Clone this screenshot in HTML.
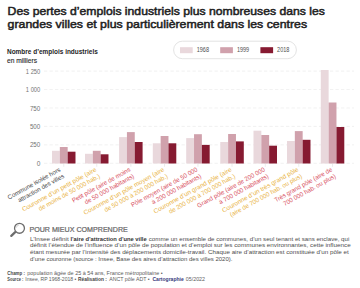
<!DOCTYPE html>
<html><head><meta charset="utf-8"><style>
html,body{margin:0;padding:0;background:#fff;width:360px;height:288px;overflow:hidden}
svg{display:block;font-family:"Liberation Sans",sans-serif}
</style></head><body>
<svg width="360" height="288" viewBox="0 0 360 288">
<rect width="360" height="288" fill="#fff"/>
<text x="7.6" y="14.8" font-size="11.3" fill="#1e1e1e" textLength="317.3" lengthAdjust="spacingAndGlyphs" stroke="#1e1e1e" stroke-width="0.5">Des pertes d’emplois industriels plus nombreuses dans les</text>
<text x="7.6" y="28.2" font-size="11.3" fill="#1e1e1e" textLength="299.5" lengthAdjust="spacingAndGlyphs" stroke="#1e1e1e" stroke-width="0.5">grandes villes et plus particulièrement dans les centres</text>
<text x="7" y="54.4" font-size="6.3" fill="#1e1e1e" font-weight="bold" textLength="90.8" lengthAdjust="spacingAndGlyphs">Nombre d’emplois industriels</text>
<text x="7" y="62.9" font-size="6.5" fill="#2a2a2a" textLength="30" lengthAdjust="spacingAndGlyphs" stroke="#2a2a2a" stroke-width="0.12">en milliers</text>
<text x="40.3" y="165.9" font-size="6.5" fill="#737373" text-anchor="end">0</text>
<line x1="44" y1="163.30" x2="354" y2="163.30" stroke="#e6e6e6" stroke-width="0.55" stroke-dasharray="3.3 2.2"/>
<text x="40.3" y="147.46" font-size="6.5" fill="#737373" text-anchor="end" textLength="10.4" lengthAdjust="spacingAndGlyphs">250</text>
<line x1="44" y1="144.86" x2="354" y2="144.86" stroke="#e6e6e6" stroke-width="0.55" stroke-dasharray="3.3 2.2"/>
<text x="40.3" y="129.02" font-size="6.5" fill="#737373" text-anchor="end" textLength="10.4" lengthAdjust="spacingAndGlyphs">500</text>
<line x1="44" y1="126.42" x2="354" y2="126.42" stroke="#e6e6e6" stroke-width="0.55" stroke-dasharray="3.3 2.2"/>
<text x="40.3" y="110.58" font-size="6.5" fill="#737373" text-anchor="end" textLength="10.4" lengthAdjust="spacingAndGlyphs">750</text>
<line x1="44" y1="107.98" x2="354" y2="107.98" stroke="#e6e6e6" stroke-width="0.55" stroke-dasharray="3.3 2.2"/>
<text x="40.3" y="92.14" font-size="6.5" fill="#737373" text-anchor="end" textLength="14.5" lengthAdjust="spacingAndGlyphs">1 000</text>
<line x1="44" y1="89.54" x2="354" y2="89.54" stroke="#e6e6e6" stroke-width="0.55" stroke-dasharray="3.3 2.2"/>
<text x="40.3" y="73.7" font-size="6.5" fill="#737373" text-anchor="end" textLength="14.5" lengthAdjust="spacingAndGlyphs">1 250</text>
<line x1="44" y1="71.10" x2="354" y2="71.10" stroke="#e6e6e6" stroke-width="0.55" stroke-dasharray="3.3 2.2"/>
<rect x="52.00" y="150.8" width="7.83" height="12.70" fill="#e9d8dc"/>
<rect x="59.83" y="147" width="7.83" height="16.50" fill="#d0a1ac"/>
<rect x="67.66" y="151.7" width="7.83" height="11.80" fill="#861a31"/>
<rect x="85.00" y="153.8" width="7.83" height="9.70" fill="#e9d8dc"/>
<rect x="92.83" y="150.8" width="7.83" height="12.70" fill="#d0a1ac"/>
<rect x="100.66" y="154.3" width="7.83" height="9.20" fill="#861a31"/>
<rect x="119.10" y="137.1" width="7.83" height="26.40" fill="#e9d8dc"/>
<rect x="126.93" y="132.1" width="7.83" height="31.40" fill="#d0a1ac"/>
<rect x="134.76" y="142" width="7.83" height="21.50" fill="#861a31"/>
<rect x="152.80" y="143.3" width="7.83" height="20.20" fill="#e9d8dc"/>
<rect x="160.63" y="136" width="7.83" height="27.50" fill="#d0a1ac"/>
<rect x="168.46" y="143.3" width="7.83" height="20.20" fill="#861a31"/>
<rect x="186.20" y="138.1" width="7.83" height="25.40" fill="#e9d8dc"/>
<rect x="194.03" y="134.2" width="7.83" height="29.30" fill="#d0a1ac"/>
<rect x="201.86" y="144.9" width="7.83" height="18.60" fill="#861a31"/>
<rect x="220.30" y="142" width="7.83" height="21.50" fill="#e9d8dc"/>
<rect x="228.13" y="134" width="7.83" height="29.50" fill="#d0a1ac"/>
<rect x="235.96" y="141.4" width="7.83" height="22.10" fill="#861a31"/>
<rect x="253.50" y="130.7" width="7.83" height="32.80" fill="#e9d8dc"/>
<rect x="261.33" y="135" width="7.83" height="28.50" fill="#d0a1ac"/>
<rect x="269.16" y="145.7" width="7.83" height="17.80" fill="#861a31"/>
<rect x="287.00" y="141" width="7.83" height="22.50" fill="#e9d8dc"/>
<rect x="294.83" y="131.1" width="7.83" height="32.40" fill="#d0a1ac"/>
<rect x="302.66" y="139.8" width="7.83" height="23.70" fill="#861a31"/>
<rect x="320.80" y="70" width="7.83" height="93.50" fill="#e9d8dc"/>
<rect x="328.63" y="102.5" width="7.83" height="61.00" fill="#d0a1ac"/>
<rect x="336.46" y="127" width="7.83" height="36.50" fill="#861a31"/>
<line x1="63.75" y1="163.6" x2="63.75" y2="166.8" stroke="#d8d8d8" stroke-width="0.5"/>
<line x1="96.75" y1="163.6" x2="96.75" y2="166.8" stroke="#d8d8d8" stroke-width="0.5"/>
<line x1="130.85" y1="163.6" x2="130.85" y2="166.8" stroke="#d8d8d8" stroke-width="0.5"/>
<line x1="164.55" y1="163.6" x2="164.55" y2="166.8" stroke="#d8d8d8" stroke-width="0.5"/>
<line x1="197.95" y1="163.6" x2="197.95" y2="166.8" stroke="#d8d8d8" stroke-width="0.5"/>
<line x1="232.05" y1="163.6" x2="232.05" y2="166.8" stroke="#d8d8d8" stroke-width="0.5"/>
<line x1="265.25" y1="163.6" x2="265.25" y2="166.8" stroke="#d8d8d8" stroke-width="0.5"/>
<line x1="298.75" y1="163.6" x2="298.75" y2="166.8" stroke="#d8d8d8" stroke-width="0.5"/>
<line x1="332.55" y1="163.6" x2="332.55" y2="166.8" stroke="#d8d8d8" stroke-width="0.5"/>
<rect x="173.6" y="41.2" width="122.8" height="17.5" rx="8.75" fill="#fff" stroke="#dcdcdc" stroke-width="0.8"/>
<rect x="180.0" y="47.2" width="12.7" height="6" fill="#e9d8dc"/>
<text x="196.7" y="52.4" font-size="6.4" fill="#505050" textLength="12.3" lengthAdjust="spacingAndGlyphs">1968</text>
<rect x="220.2" y="47.2" width="12.7" height="6" fill="#d0a1ac"/>
<text x="236.89999999999998" y="52.4" font-size="6.4" fill="#505050" textLength="12.3" lengthAdjust="spacingAndGlyphs">1999</text>
<rect x="260.4" y="47.2" width="12.7" height="6" fill="#861a31"/>
<text x="277.09999999999997" y="52.4" font-size="6.4" fill="#505050" textLength="12.3" lengthAdjust="spacingAndGlyphs">2018</text>
<g transform="translate(60.95,170.9) rotate(-29)"><text x="0" y="0" font-size="6.35" fill="#4a4a4a" text-anchor="end" textLength="59.33" lengthAdjust="spacingAndGlyphs">Commune isolée hors</text><text x="0" y="7.5" font-size="6.35" fill="#4a4a4a" text-anchor="end" textLength="51.87" lengthAdjust="spacingAndGlyphs">attraction des villes</text></g>
<g transform="translate(96.85,170.9) rotate(-29)"><text x="0" y="0" font-size="6.35" fill="#e9b343" text-anchor="end" textLength="83.99" lengthAdjust="spacingAndGlyphs">Couronne d’un petit pôle (aire</text><text x="0" y="7.5" font-size="6.35" fill="#e9b343" text-anchor="end" textLength="69.18" lengthAdjust="spacingAndGlyphs">de moins de 50 000 hab.)</text></g>
<g transform="translate(130.95,170.9) rotate(-29)"><text x="0" y="0" font-size="6.35" fill="#d8505e" text-anchor="end" textLength="65.78" lengthAdjust="spacingAndGlyphs">Petit pôle (aire de moins</text><text x="0" y="7.5" font-size="6.35" fill="#d8505e" text-anchor="end" textLength="55.62" lengthAdjust="spacingAndGlyphs">de 50 000 habitants)</text></g>
<g transform="translate(164.65,170.9) rotate(-29)"><text x="0" y="0" font-size="6.35" fill="#e9b343" text-anchor="end" textLength="91.07" lengthAdjust="spacingAndGlyphs">Couronne d’un pôle moyen (aire</text><text x="0" y="7.5" font-size="6.35" fill="#e9b343" text-anchor="end" textLength="71.57" lengthAdjust="spacingAndGlyphs">de 50 000 à 200 000 hab.)</text></g>
<g transform="translate(198.05,170.9) rotate(-29)"><text x="0" y="0" font-size="6.35" fill="#d8505e" text-anchor="end" textLength="74.94" lengthAdjust="spacingAndGlyphs">Pôle moyen (aire de 50 000</text><text x="0" y="7.5" font-size="6.35" fill="#d8505e" text-anchor="end" textLength="55.62" lengthAdjust="spacingAndGlyphs">à 200 000 habitants)</text></g>
<g transform="translate(232.15,170.9) rotate(-29)"><text x="0" y="0" font-size="6.35" fill="#e9b343" text-anchor="end" textLength="88.24" lengthAdjust="spacingAndGlyphs">Couronne d’un grand pôle (aire</text><text x="0" y="7.5" font-size="6.35" fill="#e9b343" text-anchor="end" textLength="74.96" lengthAdjust="spacingAndGlyphs">de 200 000 à 700 000 hab.)</text></g>
<g transform="translate(265.35,170.9) rotate(-29)"><text x="0" y="0" font-size="6.35" fill="#d8505e" text-anchor="end" textLength="76.31" lengthAdjust="spacingAndGlyphs">Grand pôle (aire de 200 000</text><text x="0" y="7.5" font-size="6.35" fill="#d8505e" text-anchor="end" textLength="55.62" lengthAdjust="spacingAndGlyphs">à 700 000 habitants)</text></g>
<g transform="translate(298.85,170.9) rotate(-29)"><text x="0" y="0" font-size="6.35" fill="#e9b343" text-anchor="end" textLength="86.12" lengthAdjust="spacingAndGlyphs">Couronne d’un très grand pôle</text><text x="0" y="7.5" font-size="6.35" fill="#e9b343" text-anchor="end" textLength="81.39" lengthAdjust="spacingAndGlyphs">(aire de 700 000 hab. ou plus)</text></g>
<g transform="translate(332.65,170.9) rotate(-29)"><text x="0" y="0" font-size="6.35" fill="#d8505e" text-anchor="end" textLength="64.88" lengthAdjust="spacingAndGlyphs">Très grand pôle (aire de</text><text x="0" y="7.5" font-size="6.35" fill="#d8505e" text-anchor="end" textLength="59.01" lengthAdjust="spacingAndGlyphs">700 000 hab. ou plus)</text></g>
<circle cx="19.5" cy="228.3" r="4.95" fill="none" stroke="#6d6d6d" stroke-width="1.3"/>
<line x1="15.2" y1="232.2" x2="11.3" y2="235.9" stroke="#6d6d6d" stroke-width="2.3" stroke-linecap="round"/>
<path d="M16.4 227.6 A3.2 3.2 0 0 1 19.2 224.9" fill="none" stroke="#b5b5b5" stroke-width="0.6"/>
<text x="29.4" y="232" font-size="6.8" fill="#666" textLength="98.4" lengthAdjust="spacingAndGlyphs" stroke="#666" stroke-width="0.2">POUR MIEUX COMPRENDRE</text>
<text x="30" y="240.6" font-size="6.25" fill="#4e4e4e" textLength="38.8" lengthAdjust="spacingAndGlyphs">L’Insee définit</text>
<text x="70.4" y="240.6" font-size="6.25" fill="#333333" font-weight="bold" textLength="76.2" lengthAdjust="spacingAndGlyphs">l’aire d’attraction d’une ville</text>
<text x="148.8" y="240.6" font-size="6.25" fill="#4e4e4e" textLength="200.5" lengthAdjust="spacingAndGlyphs">comme un ensemble de communes, d’un seul tenant et sans enclave, qui</text>
<text x="30" y="247.3" font-size="6.25" fill="#4e4e4e" textLength="320.7" lengthAdjust="spacingAndGlyphs">définit l’étendue de l’influence d’un pôle de population et d’emploi sur les communes environnantes, cette influence</text>
<text x="30" y="254" font-size="6.25" fill="#4e4e4e" textLength="318.8" lengthAdjust="spacingAndGlyphs">étant mesurée par l’intensité des déplacements domicile-travail. Chaque aire d’attraction est constituée d’un pôle et</text>
<text x="30" y="260.8" font-size="6.25" fill="#4e4e4e" textLength="202.5" lengthAdjust="spacingAndGlyphs">d’une couronne (source : Insee, Base des aires d’attraction des villes 2020).</text>
<text x="7.3" y="275.4" font-size="5.3" fill="#454545" font-weight="bold" textLength="17.6" lengthAdjust="spacingAndGlyphs">Champ :</text>
<text x="27.3" y="275.4" font-size="5.3" fill="#5c5c5c" textLength="135.4" lengthAdjust="spacingAndGlyphs">population âgée de 25 à 54 ans, France métropolitaine •</text>
<text x="7.3" y="281.4" font-size="5.3" fill="#454545" font-weight="bold" textLength="16" lengthAdjust="spacingAndGlyphs">Source :</text>
<text x="25.3" y="281.4" font-size="5.3" fill="#5c5c5c" textLength="51" lengthAdjust="spacingAndGlyphs">Insee, RP 1968-2018 •</text>
<text x="78" y="281.4" font-size="5.3" fill="#454545" font-weight="bold" textLength="28.8" lengthAdjust="spacingAndGlyphs">Réalisation :</text>
<text x="109.2" y="281.4" font-size="5.3" fill="#5c5c5c" textLength="40.5" lengthAdjust="spacingAndGlyphs">ANCT pôle ADT •</text>
<text x="152.5" y="281.4" font-size="5.3" fill="#35377a" font-weight="bold" textLength="31.2" lengthAdjust="spacingAndGlyphs">Cartographie</text>
<text x="185.8" y="281.4" font-size="5.3" fill="#5c5c5c" textLength="19.2" lengthAdjust="spacingAndGlyphs">05/2022</text>
</svg></body></html>
